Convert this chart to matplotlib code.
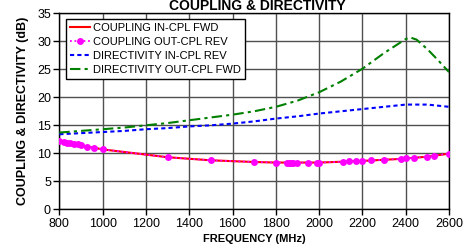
import matplotlib
matplotlib.use("Agg")
import matplotlib.pyplot as plt

plt.rcParams['font.family'] = ['Liberation Sans', 'DejaVu Sans']

# Coupling (measured points)
cpl_freq = [800, 820, 835, 850, 870, 885, 900, 930, 960, 1000, 1300, 1500, 1700, 1800,
            1850, 1860, 1870, 1880, 1900, 1950, 1990, 2000, 2110, 2140, 2170, 2200,
            2240, 2300, 2380, 2400, 2440, 2500, 2530, 2600]
cpl_in_fwd = [12.2, 12.0, 11.9, 11.8, 11.7, 11.6, 11.45, 11.2, 11.0, 10.7, 9.3, 8.75, 8.45, 8.35,
              8.35, 8.35, 8.35, 8.35, 8.35, 8.35, 8.35, 8.35, 8.5, 8.55, 8.6, 8.65,
              8.72, 8.85, 9.0, 9.1, 9.2, 9.4, 9.55, 9.95]
cpl_out_rev = list(cpl_in_fwd)

# Directivity
dir_freq = [800, 900, 1000, 1100, 1200, 1300, 1400, 1500, 1600, 1700, 1800, 1900, 2000,
            2100, 2200, 2300, 2400, 2420, 2450, 2500, 2550, 2600]
dir_in_rev = [13.4, 13.6, 13.8, 14.0, 14.3, 14.5, 14.8, 15.0, 15.3, 15.7, 16.2, 16.6, 17.1,
              17.5, 17.9, 18.3, 18.7, 18.7, 18.7, 18.7, 18.5, 18.3]
dir_out_fwd = [13.7, 14.0, 14.3, 14.6, 15.0, 15.4, 15.9, 16.4, 16.9, 17.5, 18.3, 19.4, 20.9,
               22.8, 25.1, 27.9, 30.4, 30.7, 30.3, 28.6, 26.6, 24.5]

x_ticks = [800, 1000, 1200, 1400, 1600, 1800, 2000, 2200, 2400, 2600]
y_ticks = [0, 5, 10, 15, 20, 25, 30, 35]

fig = plt.figure(figsize=(4.76, 2.49), dpi=100)
ax = fig.add_axes([0.1246, 0.1594, 0.8187, 0.7872])

ax.plot(cpl_freq, cpl_in_fwd, color='red', lw=1.5, label='COUPLING IN-CPL FWD', zorder=3)
ax.plot(cpl_freq, cpl_out_rev, color='magenta', lw=1.3, ls=(0, (1, 1.5)), marker='o',
        markersize=5, markeredgewidth=0, label='COUPLING OUT-CPL REV', zorder=4)
ax.plot(dir_freq, dir_in_rev, color='blue', lw=1.5, ls=(0, (2, 1.5)),
        label='DIRECTIVITY IN-CPL REV', zorder=3)
ax.plot(dir_freq, dir_out_fwd, color='green', lw=1.5, ls=(0, (5, 2, 1.5, 2)),
        label='DIRECTIVITY OUT-CPL FWD', zorder=3)

ax.set_xlim(800, 2600)
ax.set_ylim(0, 35)
ax.set_xticks(x_ticks)
ax.set_yticks(y_ticks)
ax.tick_params(labelsize=9, length=4, width=1, direction='out', pad=2)
ax.grid(True, color='#505050', lw=1)
ax.set_axisbelow(True)
for s in ax.spines.values():
    s.set_linewidth(1)
    s.set_color('black')

ax.set_xlabel('FREQUENCY (MHz)', fontsize=8, fontweight='bold', labelpad=3)
ax.set_ylabel('COUPLING & DIRECTIVITY (dB)', fontsize=9, fontweight='bold', labelpad=6)
fig.text(0.54, 0.958, 'COUPLING & DIRECTIVITY', ha='center', va='baseline',
         fontsize=10, fontweight='bold')

leg = ax.legend(loc='upper left', bbox_to_anchor=(0.017, 0.972), fontsize=8,
                frameon=True, fancybox=False, framealpha=1, edgecolor='black',
                handlelength=1.8, handletextpad=0.3, borderpad=0.35, labelspacing=0.36,
                borderaxespad=0)
leg.get_frame().set_linewidth(1)

fig.savefig('out.png', dpi=100)
